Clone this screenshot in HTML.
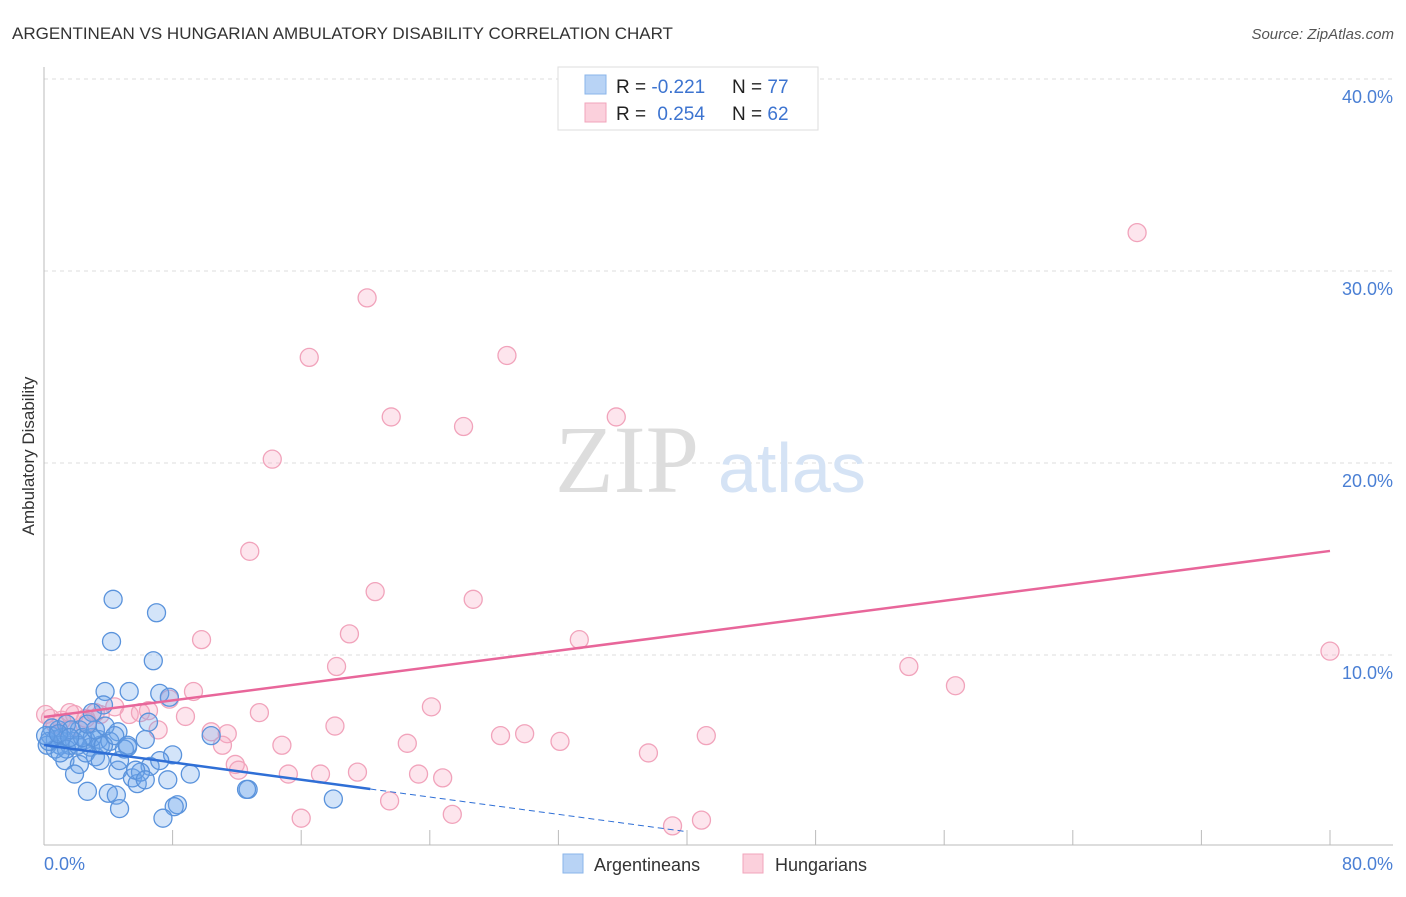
<!DOCTYPE html>
<html><head><meta charset="utf-8"><style>
body{margin:0;background:#fff;font-family:"Liberation Sans",sans-serif;}
svg text{font-family:"Liberation Sans",sans-serif;}
</style></head><body>
<svg id="c" width="1406" height="892" viewBox="0 0 1406 892">
<text x="12" y="39" font-size="17" fill="#333">ARGENTINEAN VS HUNGARIAN AMBULATORY DISABILITY CORRELATION CHART</text>
<text x="1394" y="39" font-size="15" fill="#555" text-anchor="end" font-style="italic">Source: ZipAtlas.com</text>
<g id="grid"></g>
<text x="555" y="492" font-size="96" fill="#ddd" font-family="Liberation Serif" style="font-family:'Liberation Serif',serif">ZIP</text>
<text x="718" y="492" font-size="70" fill="#d5e3f5">atlas</text>
<g id="marks"></g>
<text transform="translate(34,456) rotate(-90)" font-size="17" fill="#333" text-anchor="middle">Ambulatory Disability</text>
<g>
<rect x="558" y="67" width="260" height="63" fill="#fff" stroke="#ddd"/>
<rect x="585" y="75" width="21" height="19" fill="#b8d3f5" stroke="#8ab4ea"/>
<rect x="585" y="103" width="21" height="19" fill="#fbd0dc" stroke="#f2a4bb"/>
<text x="616" y="93" font-size="19" fill="#222">R = <tspan fill="#3d74d0">-0.221</tspan></text>
<text x="732" y="93" font-size="19" fill="#222">N = <tspan fill="#3d74d0">77</tspan></text>
<text x="616" y="120" font-size="19" fill="#222">R = <tspan fill="#3d74d0" dx="6">0.254</tspan></text>
<text x="732" y="120" font-size="19" fill="#222">N = <tspan fill="#3d74d0">62</tspan></text>
</g>
<g>
<rect x="563" y="854" width="20" height="19" fill="#b8d3f5" stroke="#8ab4ea"/>
<text x="594" y="871" font-size="18" fill="#333">Argentineans</text>
<rect x="743" y="854" width="20" height="19" fill="#fbd0dc" stroke="#f2a4bb"/>
<text x="775" y="871" font-size="18" fill="#333">Hungarians</text>
</g>
</svg>
<script>
const xTickLabels=["0.0%","80.0%"];
const yTicks=[10,20,30,40];
const yTickLabels=["10.0%","20.0%","30.0%","40.0%"];
const blueX=[4.3,7.0,4.2,6.8,3.8,5.3,7.2,7.8,3.7,3.0,6.5,4.6,0.9,10.4,3.4,6.3,5.2,8.0,3.2,1.3,2.2,4.6,6.6,9.1,1.9,7.7,5.5,5.8,4.0,2.7,4.5,12.7,8.3,8.1,4.7,7.4,18.0,0.4,0.7,1.0,1.6,1.9,2.6,2.9,3.5,1.1,0.5,0.2,2.2,1.4,1.7,3.0,4.1,5.0,2.6,0.7,1.4,6.0,12.6,3.7,2.1,1.0,0.3,2.4,3.2,4.7,5.7,3.5,0.1,0.9,1.6,2.7,3.8,4.4,7.2,6.3,5.2];
const blueY=[12.9,12.2,10.7,9.7,8.1,8.1,8.0,7.8,7.4,7.0,6.5,6.0,6.1,5.8,5.6,5.6,5.2,4.8,4.7,4.5,4.3,4.0,4.2,3.8,3.8,3.5,3.6,3.3,2.8,2.9,2.7,3.0,2.2,2.1,2.0,1.5,2.5,5.8,5.6,5.3,5.3,5.5,5.6,5.2,5.3,5.7,6.2,5.3,6.1,6.4,6.1,5.7,5.5,5.1,4.9,5.1,5.1,3.9,3.0,5.3,5.3,4.9,5.5,5.7,6.1,4.5,4.0,4.5,5.8,5.9,5.7,6.4,6.3,5.8,4.5,3.5,5.3];
const pinkX=[68.0,20.1,16.5,28.8,21.6,35.6,26.1,14.2,12.8,20.6,26.7,19.0,9.8,33.3,80.0,18.2,53.8,56.7,9.3,24.1,13.4,4.4,6.5,5.3,3.5,1.9,1.1,0.4,8.8,7.1,18.1,28.4,29.9,11.4,10.4,32.1,22.6,14.8,11.1,37.6,41.2,11.9,12.1,15.2,17.2,19.5,23.3,24.8,21.5,25.4,16.0,39.1,40.9,3.2,2.6,1.6,0.7,7.8,6.0,0.1,2.7,1.5];
const pinkY=[32.0,28.6,25.5,25.6,22.4,22.4,21.9,20.2,15.4,13.3,12.9,11.1,10.8,10.8,10.2,9.4,9.4,8.4,8.1,7.3,7.0,7.3,7.1,6.9,6.9,6.9,6.6,6.7,6.8,6.1,6.3,5.8,5.9,5.9,6.0,5.5,5.4,5.3,5.3,4.9,5.8,4.3,4.0,3.8,3.8,3.9,3.8,3.6,2.4,1.7,1.5,1.1,1.4,7.0,6.7,7.0,6.4,7.7,7.0,6.9,6.5,6.1];
const blueTrend=[5.31,3.02];const blueTrendX=[0,20.3];const blueDashEnd=[40.0];
const pinkTrend=[6.77,15.42];const pinkTrendX=[0,80];
const NS="http://www.w3.org/2000/svg";
const X0=44,X1=1330,Y0=847,YP=19.2;
function sx(v){return X0+(v/80)*(X1-X0);}
function sy(v){return Y0-v*YP;}
function mk(tag,attrs,parent){const e=document.createElementNS(NS,tag);for(const k in attrs)e.setAttribute(k,attrs[k]);parent.appendChild(e);return e;}
const grid=document.getElementById('grid'),marks=document.getElementById('marks'),svg=document.getElementById('c');
yTicks.forEach((t,i)=>{
 const l=mk('line',{x1:X0,x2:1393,y1:sy(t),y2:sy(t),stroke:'#ddd','stroke-dasharray':'4,4'},grid);
 
 
 const tx=mk('text',{x:1393,y:sy(t)+24,'font-size':18,fill:'#4a7fd4','text-anchor':'end'},grid);
 tx.textContent=yTickLabels[i];
 
 
});
const ax=mk('line',{x1:X0,x2:X0,y1:67,y2:845,stroke:'#bbb'},grid);


const bx=mk('line',{x1:X0,x2:1393,y1:845,y2:845,stroke:'#bbb'},grid);


for(let i=0;i<=10;i++){
 const t=mk('line',{x1:sx(i*8),x2:sx(i*8),y1:830,y2:845,stroke:'#bbb'},grid);
 
 
}
[[0,'start',44],[80,'end',1393]].forEach((d,i)=>{
 const tx=mk('text',{x:d[2],y:870,'font-size':18,fill:'#4a7fd4','text-anchor':d[1]},grid);
 tx.textContent=xTickLabels[i];
 
 
});
pinkX.forEach((v,i)=>{
 const c=mk('circle',{cx:sx(v),cy:sy(pinkY[i]),r:9,fill:'rgba(247,170,195,0.3)',stroke:'#f1a3bb','stroke-width':1.3},marks);
 
 
});
blueX.forEach((v,i)=>{
 const c=mk('circle',{cx:sx(v),cy:sy(blueY[i]),r:9,fill:'rgba(110,165,235,0.3)',stroke:'#5a93dc','stroke-width':1.3},marks);
 
 
});
const slope=(blueTrend[1]-blueTrend[0])/(blueTrendX[1]-blueTrendX[0]);
const bl=mk('line',{x1:sx(blueTrendX[0]),y1:sy(blueTrend[0]),x2:sx(blueTrendX[1]),y2:sy(blueTrend[1]),stroke:'#2f6fd6','stroke-width':2.5},marks);


const bd=mk('line',{x1:sx(blueTrendX[1]),y1:sy(blueTrend[1]),x2:sx(blueDashEnd[0]),y2:sy(blueTrend[0]+slope*blueDashEnd[0]),stroke:'#2f6fd6','stroke-width':1,'stroke-dasharray':'6,4'},marks);


const pl=mk('line',{x1:sx(pinkTrendX[0]),y1:sy(pinkTrend[0]),x2:sx(pinkTrendX[1]),y2:sy(pinkTrend[1]),stroke:'#e8669a','stroke-width':2.5},marks);


</script>
</body></html>
